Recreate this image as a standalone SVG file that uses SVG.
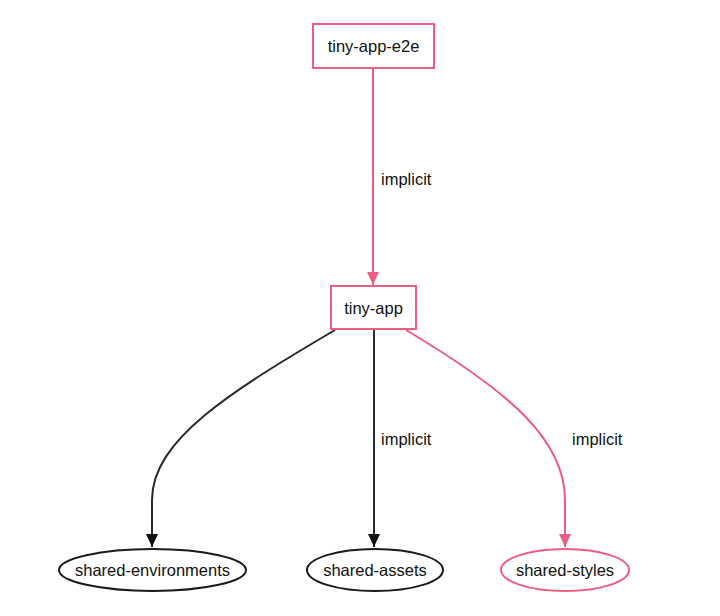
<svg xmlns="http://www.w3.org/2000/svg" width="720" height="616" viewBox="0 0 720 616">
<style>
  text { font-family: "Liberation Sans", Arial, sans-serif; font-size: 16.5px; fill: #111; }
  .node text { text-anchor: middle; dominant-baseline: central; }
  .pink { fill: #fff; stroke: #ec5d84; stroke-width: 2; }
  .dark { fill: #fff; stroke: #1a1a1a; stroke-width: 2; }
  .e-pink { fill: none; stroke: #ec5d84; stroke-width: 2; }
  .e-dark { fill: none; stroke: #2a2a2a; stroke-width: 2; }
  .lbl { font-size: 16.5px; }
</style>
<defs>
  <marker id="ap" markerUnits="userSpaceOnUse" markerWidth="14" markerHeight="14" refX="13" refY="7" orient="auto">
    <path d="M0,1 L13,7 L0,13 z" fill="#ec5d84"/>
  </marker>
  <marker id="ad" markerUnits="userSpaceOnUse" markerWidth="14" markerHeight="14" refX="13" refY="7" orient="auto">
    <path d="M0,1 L13,7 L0,13 z" fill="#111"/>
  </marker>
</defs>
<rect width="720" height="616" fill="#fff"/>
<g id="edges">
  <path class="e-pink" d="M373,69 L373,285" marker-end="url(#ap)"/>
  <text class="lbl" x="381" y="185">implicit</text>
  <path class="e-dark" d="M335,330 C230,392 152,440 152,500 L152,547" marker-end="url(#ad)"/>
  <path class="e-dark" d="M374,330 L374,547" marker-end="url(#ad)"/>
  <text class="lbl" x="381" y="445">implicit</text>
  <path class="e-pink" d="M406,330 C510,392 565,440 565,500 L565,547" marker-end="url(#ap)"/>
  <text class="lbl" x="572" y="445">implicit</text>
</g>
<g id="node-tiny-app-e2e" class="node">
  <rect class="pink" x="313" y="24" width="121" height="44"/>
  <text x="373.5" y="46">tiny-app-e2e</text>
</g>
<g id="node-tiny-app" class="node">
  <rect class="pink" x="331" y="286" width="85" height="43"/>
  <text x="373.5" y="308">tiny-app</text>
</g>
<g id="node-shared-environments" class="node">
  <ellipse class="dark" cx="152.5" cy="570" rx="93.5" ry="21"/>
  <text x="152.5" y="570">shared-environments</text>
</g>
<g id="node-shared-assets" class="node">
  <ellipse class="dark" cx="375" cy="570" rx="68" ry="21"/>
  <text x="375" y="570">shared-assets</text>
</g>
<g id="node-shared-styles" class="node">
  <ellipse class="pink" cx="565" cy="570" rx="64" ry="21"/>
  <text x="565" y="570">shared-styles</text>
</g>
</svg>
